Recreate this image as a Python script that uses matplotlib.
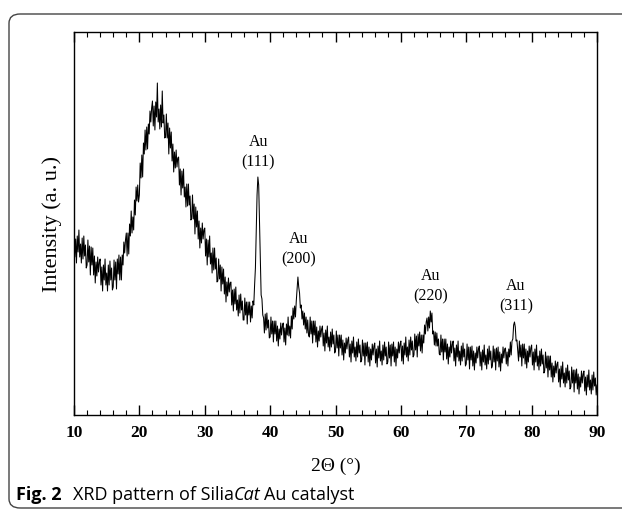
import numpy as np
import matplotlib.pyplot as plt
from matplotlib.patches import FancyBboxPatch

# diffraction angle grid (0.125 deg steps)
two_theta = np.arange(10, 90.001, 0.125)

# intensity (a. u.), 2 deg per row
intensity = [
    182, 156, 174, 150, 177, 161, 183, 156, 169, 150, 175, 154, 177, 157, 168, 145,  # 10
    148, 173, 151, 167, 138, 166, 148, 165, 138, 157, 130, 151, 137, 156, 141, 151,  # 12
    154, 128, 146, 122, 148, 133, 154, 128, 140, 122, 148, 128, 152, 133, 145, 123,  # 14
    126, 153, 133, 151, 124, 154, 139, 158, 133, 156, 133, 158, 148, 171, 160, 173,  # 16
    180, 157, 180, 159, 189, 177, 202, 180, 196, 183, 213, 198, 226, 212, 228, 211,  # 18
    218, 250, 235, 258, 236, 270, 259, 283, 263, 286, 264, 289, 279, 302, 291, 305,  # 20
    312, 287, 307, 283, 311, 296, 330, 291, 304, 284, 308, 286, 322, 290, 298, 275,  # 22
    276, 299, 275, 290, 259, 285, 265, 281, 252, 269, 241, 261, 245, 263, 246, 255,  # 24
    256, 228, 244, 218, 242, 225, 244, 216, 226, 206, 229, 207, 229, 208, 217, 193,  # 26
    194, 218, 194, 209, 179, 206, 186, 202, 174, 192, 165, 185, 170, 190, 174, 183,  # 28
    185, 157, 174, 148, 173, 156, 177, 149, 160, 140, 165, 143, 165, 144, 155, 131,  # 30
    132, 154, 134, 148, 122, 146, 129, 144, 119, 136, 111, 131, 117, 135, 121, 130,  # 32
    131, 108, 123, 102, 124, 109, 126, 103, 113, 97, 118, 100, 119, 103, 112, 93,    # 34
    93, 115, 98, 111, 89, 111, 98, 111, 91, 107, 95, 112, 108, 128, 145, 180,        # 36
    218, 236, 228, 190, 148, 118, 114, 98, 95, 80, 99, 83, 100, 85, 93, 75,          # 38
    76, 96, 79, 92, 71, 92, 79, 92, 72, 87, 67, 84, 74, 90, 78, 87,                  # 40
    90, 71, 85, 68, 89, 78, 96, 77, 87, 75, 97, 84, 105, 94, 107, 96,                # 42
    112, 124, 136, 126, 120, 105, 108, 94, 102, 88, 100, 84, 96, 80, 93, 78,         # 44
    76, 96, 79, 92, 70, 92, 78, 92, 71, 86, 66, 82, 72, 87, 76, 84,                  # 46
    87, 67, 80, 62, 83, 70, 87, 66, 76, 62, 81, 66, 84, 69, 78, 60,                  # 48
    62, 82, 65, 78, 57, 78, 65, 78, 58, 73, 53, 70, 60, 75, 64, 73,                  # 50
    76, 56, 69, 51, 72, 60, 76, 56, 66, 52, 71, 56, 74, 60, 68, 51,                  # 52
    53, 73, 57, 70, 48, 70, 57, 71, 51, 66, 47, 64, 53, 69, 58, 67,                  # 54
    70, 50, 64, 46, 67, 55, 72, 52, 62, 48, 68, 53, 71, 57, 66, 49,                  # 56
    51, 71, 55, 68, 47, 69, 57, 71, 51, 66, 47, 64, 55, 71, 60, 69,                  # 58
    72, 52, 67, 49, 70, 58, 76, 56, 66, 52, 73, 58, 76, 63, 72, 56,                  # 60
    58, 79, 63, 77, 56, 79, 67, 81, 62, 78, 60, 78, 70, 88, 79, 91,                  # 62
    95, 82, 96, 85, 102, 91, 100, 79, 82, 68, 81, 67, 80, 67, 74, 59,                # 64
    58, 78, 61, 74, 53, 74, 61, 74, 54, 69, 49, 66, 56, 72, 60, 69,                  # 66
    72, 52, 65, 47, 68, 56, 72, 52, 62, 48, 67, 52, 70, 56, 64, 47,                  # 68
    49, 69, 53, 66, 44, 66, 53, 67, 47, 62, 43, 60, 50, 66, 55, 64,                  # 70
    67, 47, 61, 43, 63, 51, 68, 48, 58, 44, 64, 49, 67, 53, 62, 45,                  # 72
    47, 67, 51, 64, 43, 65, 52, 66, 46, 61, 42, 59, 50, 66, 55, 64,                  # 74
    65, 49, 61, 47, 64, 56, 71, 58, 72, 74, 88, 91, 86, 72, 73, 62,                  # 76
    52, 72, 56, 68, 47, 69, 55, 69, 49, 64, 45, 62, 51, 67, 56, 65,                  # 78
    68, 48, 61, 43, 64, 51, 68, 47, 57, 43, 62, 47, 64, 49, 58, 40,                  # 80
    42, 61, 45, 57, 36, 57, 43, 57, 36, 50, 31, 47, 36, 52, 40, 49,                  # 82
    51, 31, 44, 26, 47, 34, 51, 30, 40, 26, 45, 30, 48, 33, 42, 24,                  # 84
    26, 46, 30, 43, 21, 43, 30, 44, 24, 39, 19, 36, 26, 42, 30, 39,                  # 86
    42, 22, 36, 18, 38, 26, 43, 23, 33, 19, 38, 23, 41, 27, 35, 18,                  # 88
    28,                                                                              # 90
]

# Au reflections: label, peak position, label height
peak_labels = ["(111)", "(200)", "(220)", "(311)"]
peak_pos = [38.2, 44.3, 64.5, 77.6]
label_y = [261, 164, 127, 117]

serif = "Liberation Serif"
sans = "Open Sans"

fig = plt.figure(figsize=(6.22, 5.12), dpi=100)

# rounded frame around figure + caption
frame = FancyBboxPatch((9 / 622, 4 / 512), 640 / 622, 494 / 512,
                       boxstyle="round,pad=0,rounding_size=0.018",
                       transform=fig.transFigure, fill=False,
                       edgecolor="#444444", lw=1.0, clip_on=False)
fig.patches.append(frame)

ax = fig.add_axes([74 / 622, 1 - 415 / 512, 523 / 622, 383 / 512])
ax.plot(two_theta, intensity, color="black", lw=0.75)

for lab, x, y in zip(peak_labels, peak_pos, label_y):
    ax.text(x, y, "Au\n" + lab, ha="center", va="center",
            family=serif, fontsize=11.5, linespacing=1.4)

ax.set_xlim(10, 90)
ax.set_ylim(-2, 381)
ax.set_xticks(np.arange(10, 91, 10))
ax.set_xticks(np.arange(10, 91, 2), minor=True)
ax.set_yticks([])
ax.tick_params(axis="x", which="both", direction="in", top=True, bottom=True)
ax.tick_params(axis="x", which="major", length=7, width=1, pad=7)
ax.tick_params(axis="x", which="minor", length=3.5, width=0.8)
for lbl in ax.get_xticklabels():
    lbl.set_family(serif)
    lbl.set_fontweight("bold")
    lbl.set_fontsize(12.5)
for sp in ax.spines.values():
    sp.set_linewidth(1.0)

ax.set_xlabel("2\u0398 (\u00b0)", family=serif, fontsize=14, labelpad=12)
ax.set_ylabel("Intensity (a. u.)", family=serif, fontsize=16, labelpad=9)

# caption, pieces laid out one after another
cap_y = 1 - 495 / 512
parts = [("Fig. 2", dict(fontweight="bold"), 11),
         ("XRD pattern of Silia", {}, 0),
         ("Cat", dict(style="italic"), 4),
         ("Au catalyst", {}, 0)]
x = 16
renderer = fig.canvas.get_renderer()
for txt, kw, gap in parts:
    t = fig.text(x / 622, cap_y, txt, family=sans, fontsize=13,
                 va="center", **kw)
    bb = t.get_window_extent(renderer=renderer)
    x = bb.x1 + gap

plt.savefig("out.png", dpi=100, facecolor="white")
